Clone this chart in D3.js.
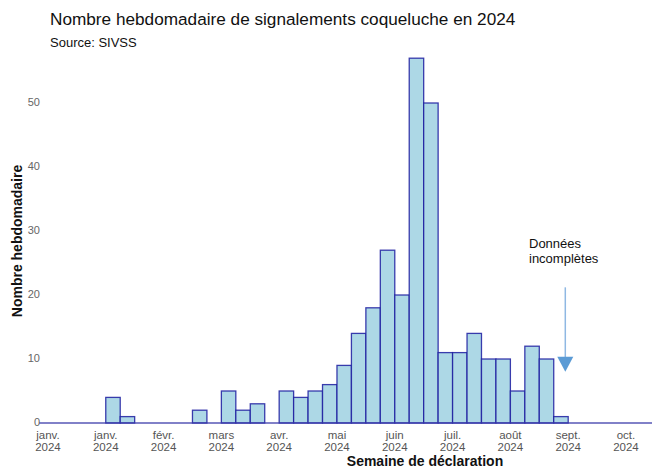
<!DOCTYPE html>
<html><head><meta charset="utf-8">
<script src="https://cdn.jsdelivr.net/npm/d3@7"></script>
<style>body{margin:0;background:#fff}svg{display:block}text{font-family:"Liberation Sans",Arial,sans-serif}</style>
</head><body>
<svg id="c" width="656" height="469"></svg>
<script>
// week index (0 = week starting 1 Jan 2024)
const weeks = d3.range(0, 42);
const counts = [0,0,0,0,4,1,0,0,0,0,2,0,5,2,3,0,5,4,5,6,9,14,18,27,20,57,50,11,11,14,10,10,5,12,10,1,0,0,0,0,0,0];
const tickWeeks = [0,4,8,12,16,20,24,28,32,36,40];
const tickMonths = ["janv.","janv.","févr.","mars","avr.","mai","juin","juil.","août","sept.","oct."];
const tickYear = "2024";
const yTicks = [0,10,20,30,40,50];
const title = "Nombre hebdomadaire de signalements coqueluche en 2024";
const subtitle = "Source: SIVSS";
const xLabel = "Semaine de déclaration";
const yLabel = "Nombre hebdomadaire";
const noteLines = ["Données","incomplètes"];
const arrowWeek = 35.8, arrowFrom = 21.2, arrowTo = 8;

const svg = d3.select("#c");
const x = d3.scaleLinear().domain([-0.62, 41.8]).range([39, 652]);
const y = d3.scaleLinear().domain([0, 50]).range([423, 103]);

svg.append("text").attr("x",50).attr("y",25).attr("font-size",17.2).attr("fill","#111").text(title);
svg.append("text").attr("x",50).attr("y",47).attr("font-size",13).attr("fill","#111").text(subtitle);

// bars
svg.append("g").selectAll("rect").data(weeks.filter((w,i)=>counts[i]>0)).join("rect")
  .attr("x", w => x(w)).attr("width", w => x(w+1)-x(w))
  .attr("y", w => y(counts[w])).attr("height", w => y(0)-y(counts[w]))
  .attr("fill","#add8e6").attr("stroke","#1c1ca0").attr("stroke-opacity",0.85).attr("stroke-width",1.3);

// baseline
svg.append("line").attr("x1",x.range()[0]).attr("x2",x.range()[1]).attr("y1",y(0)).attr("y2",y(0))
  .attr("stroke","#3a3aa8").attr("stroke-opacity",0.85).attr("stroke-width",1.5);

// y ticks
svg.append("g").selectAll("text").data(yTicks).join("text")
  .attr("x",40).attr("y",d=>y(d)+3).attr("text-anchor","end").attr("font-size",11).attr("fill","#666").text(d=>d);

// x ticks
const xt = svg.append("g").selectAll("text").data(tickWeeks).join("text")
  .attr("text-anchor","middle").attr("font-size",11.5).attr("fill","#555");
xt.append("tspan").attr("x",d=>x(d)).attr("y",438.7).text((d,i)=>tickMonths[i]);
xt.append("tspan").attr("x",d=>x(d)).attr("y",450.8).text(tickYear);

svg.append("text").attr("x",425).attr("y",466).attr("text-anchor","middle").attr("font-size",14)
  .attr("font-weight","bold").attr("fill","#111").text(xLabel);
svg.append("text").attr("transform","translate(22,241) rotate(-90)").attr("text-anchor","middle")
  .attr("font-size",14).attr("font-weight","bold").attr("fill","#111").text(yLabel);

// annotation
const ax = x(arrowWeek);
svg.append("line").attr("x1",ax).attr("x2",ax).attr("y1",y(arrowFrom)).attr("y2",y(arrowTo)-14)
  .attr("stroke","#8fb8e3").attr("stroke-width",1.5);
svg.append("path").attr("d",`M${ax-8},${y(arrowTo)-15}L${ax+8},${y(arrowTo)-15}L${ax},${y(arrowTo)}Z`).attr("fill","#5b9bd5");
const nt = svg.append("text").attr("font-size",13).attr("fill","#111");
noteLines.forEach((l,i)=>nt.append("tspan").attr("x",529).attr("y",248+i*15).text(l));
</script>
</body></html>
